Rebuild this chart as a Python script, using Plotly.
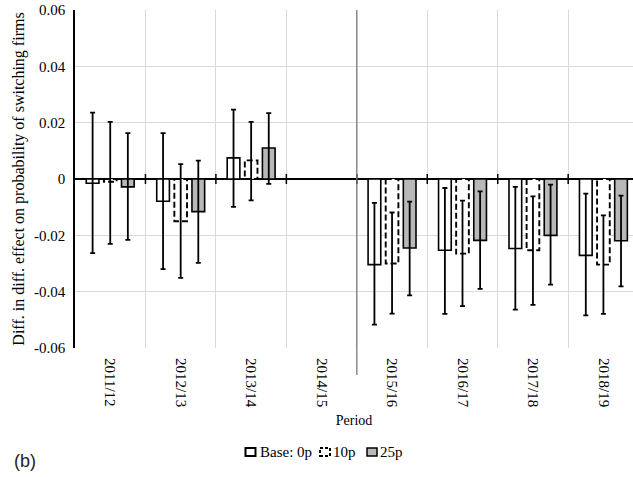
import plotly.graph_objects as go

periods = ["2011/12", "2012/13", "2013/14", "2014/15", "2015/16", "2016/17", "2017/18", "2018/19"]

base_est = [-0.0015, -0.0079, 0.0075, 0.0, -0.0304, -0.0253, -0.0247, -0.0271]
base_lo = [-0.0263, -0.0320, -0.0099, 0.0, -0.0517, -0.0479, -0.0464, -0.0484]
base_hi = [0.0236, 0.0163, 0.0246, 0.0, -0.0085, -0.0032, -0.0028, -0.0052]

p10_est = [-0.0010, -0.0150, 0.0066, 0.0, -0.0300, -0.0265, -0.0253, -0.0304]
p10_lo = [-0.0230, -0.0351, -0.0076, 0.0, -0.0478, -0.0451, -0.0447, -0.0479]
p10_hi = [0.0203, 0.0053, 0.0203, 0.0, -0.0119, -0.0077, -0.0062, -0.0129]

p25_est = [-0.0028, -0.0116, 0.0110, 0.0, -0.0245, -0.0218, -0.0200, -0.0219]
p25_lo = [-0.0216, -0.0298, -0.0017, 0.0, -0.0413, -0.0390, -0.0375, -0.0381]
p25_hi = [0.0163, 0.0065, 0.0234, 0.0, -0.0080, -0.0044, -0.0020, -0.0059]

series_names = ["Base: 0p", "10p", "25p"]
y_tickvals = [0.06, 0.04, 0.02, 0, -0.02, -0.04, -0.06]
y_ticktext = ["0.06", "0.04", "0.02", "0", "-0.02", "-0.04", "-0.06"]

SERIF = "Liberation Serif, Times New Roman, serif"
BW = 0.18
GRAY = "#b8b8b8"
DASH = "6px,3px"


def err(est, lo, hi):
    return dict(type="data", symmetric=False,
                array=[h - e for e, h in zip(est, hi)],
                arrayminus=[e - l for e, l in zip(est, lo)],
                color="black", thickness=1.8, width=2.5)


fig = go.Figure()
fig.add_trace(go.Bar(
    x=periods, y=base_est, name=series_names[0], width=BW, offset=-0.25 - BW / 2,
    marker=dict(color="white", line=dict(color="black", width=1.6)),
    error_y=err(base_est, base_lo, base_hi)))
fig.add_trace(go.Bar(
    x=periods, y=p10_est, name=series_names[1], width=BW, offset=-BW / 2,
    marker=dict(color="rgba(0,0,0,0)", line=dict(width=0)),
    error_y=err(p10_est, p10_lo, p10_hi)))
fig.add_trace(go.Bar(
    x=periods, y=p25_est, name=series_names[2], width=BW, offset=0.25 - BW / 2,
    marker=dict(color=GRAY, line=dict(color="black", width=1.6)),
    error_y=err(p25_est, p25_lo, p25_hi)))

shapes = []
# dashed outlines for the 10p bars
for i, v in enumerate(p10_est):
    shapes.append(dict(type="rect", xref="x", yref="y", layer="between",
                       x0=i - BW / 2, x1=i + BW / 2, y0=0, y1=v,
                       fillcolor="white",
                       line=dict(color="black", width=1.9, dash=DASH)))
# tick crosses on the zero axis at category boundaries
for i in range(len(periods) - 1):
    shapes.append(dict(type="line", xref="x", yref="y", ysizemode="pixel", yanchor=0,
                       x0=i + 0.5, x1=i + 0.5, y0=-5, y1=5,
                       line=dict(color="black", width=1.5)))
# vertical separator before 2015/16
shapes.append(dict(type="line", xref="x", yref="paper", x0=3.5, x1=3.5, y0=-0.08, y1=1,
                   line=dict(color="#7a7a7a", width=1.3)))

# plot area in pixels: x 75..633 (558 px), y 10..348 (338 px)
leg_y = -0.3077
leg_sym_x = [0.3145, 0.4480, 0.5323]
leg_txt_x = [0.3280, 0.4588, 0.5430]
leg_styles = [
    dict(fillcolor="white", line=dict(color="black", width=2)),
    dict(fillcolor="white", line=dict(color="black", width=2, dash="3px,2px")),
    dict(fillcolor=GRAY, line=dict(color="black", width=1.5)),
]
for sx, st in zip(leg_sym_x, leg_styles):
    shapes.append(dict(type="rect", xref="paper", yref="paper",
                       xsizemode="pixel", ysizemode="pixel",
                       xanchor=sx, yanchor=leg_y, x0=-5, x1=5, y0=-4, y1=4, **st))

annotations = [dict(text=n, xref="paper", yref="paper", x=tx, y=leg_y,
                    xanchor="left", yanchor="middle", showarrow=False,
                    font=dict(family=SERIF, size=15, color="black"))
               for n, tx in zip(series_names, leg_txt_x)]
annotations.append(dict(text="(b)", xref="paper", yref="paper", x=-0.1129, y=-0.334,
                        xanchor="left", yanchor="middle", showarrow=False,
                        font=dict(family="Liberation Sans, Arial, sans-serif", size=18,
                                  color="#222222")))

fig.update_layout(
    width=633, height=477,
    margin=dict(l=75, r=0, t=10, b=129),
    paper_bgcolor="white", plot_bgcolor="white",
    barmode="overlay",
    font=dict(family=SERIF, size=15, color="black"),
    showlegend=False,
    shapes=shapes,
    annotations=annotations,
    xaxis=dict(type="category", range=[-0.5, 7.42], tickson="boundaries",
               showgrid=True, gridcolor="#d9d9d9", gridwidth=1,
               ticks="", tickangle=90, showline=False, zeroline=False,
               tickfont=dict(family=SERIF, size=15, color="black"),
               ticklabelstandoff=9,
               title=dict(text="Period", font=dict(family=SERIF, size=14, color="black"),
                          standoff=8),
               automargin=False),
    yaxis=dict(range=[-0.06, 0.06], tickvals=y_tickvals, ticktext=y_ticktext,
               showgrid=True, gridcolor="#d9d9d9", gridwidth=1,
               zeroline=True, zerolinecolor="black", zerolinewidth=1.5,
               showline=True, linecolor="black", linewidth=1.6,
               ticks="", ticklabeloverflow="allow", ticklabelstandoff=5,
               tickfont=dict(family=SERIF, size=15, color="black"),
               title=dict(text="Diff. in diff. effect on probability of switching firms",
                          font=dict(family=SERIF, size=16, color="black"), standoff=5),
               automargin=False),
)

fig.write_html("out.html", config={"displayModeBar": False},
               post_script="document.body.style.margin='0px';")
